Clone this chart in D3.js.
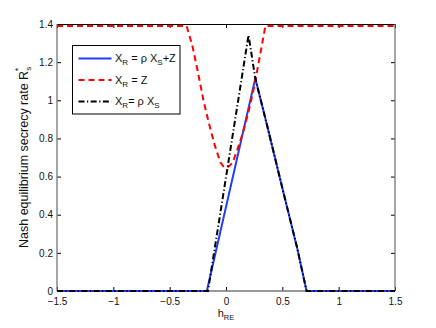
<!DOCTYPE html>
<html>
<head>
<meta charset="utf-8">
<script src="https://cdnjs.cloudflare.com/ajax/libs/d3/7.8.5/d3.min.js"></script>
<style>
body { margin: 0; background: #fff; }
text { font-family: "Liberation Sans", Arial, Helvetica, sans-serif; }
</style>
</head>
<body>
<div id="chart"></div>
<script>
// values
var hBlue = [-1.5, -0.17, 0.26, 0.36, 0.5, 0.63, 0.715, 1.5];
var rBlue = [0, 0, 1.115, 0.88, 0.54, 0.23, 0, 0];

var hRed = [-1.5, -0.35, -0.3, -0.25, -0.2, -0.15, -0.1, -0.05, -0.02, 0.0, 0.03, 0.06, 0.1, 0.15, 0.2, 0.25, 0.3, 0.35, 1.5];
var rRed = [1.39, 1.39, 1.29, 1.15, 1.0, 0.875, 0.765, 0.675, 0.65, 0.645, 0.655, 0.675, 0.74, 0.83, 0.94, 1.07, 1.23, 1.39, 1.39];

var hBlack = [-1.5, -0.16, 0.2, 0.26, 0.36, 0.5, 0.63, 0.715, 1.5];
var rBlack = [0, 0, 1.342, 1.115, 0.88, 0.54, 0.23, 0, 0];

var xTicks = [-1.5, -1, -0.5, 0, 0.5, 1, 1.5];
var xTickLabels = ["\u22121.5", "\u22121", "\u22120.5", "0", "0.5", "1", "1.5"];
var yTicks = [0, 0.2, 0.4, 0.6, 0.8, 1, 1.2, 1.4];
var yTickLabels = ["0", "0.2", "0.4", "0.6", "0.8", "1", "1.2", "1.4"];

var margin = {top: 24, right: 41, bottom: 37, left: 57},
    width = 436 - margin.left - margin.right,
    height = 328 - margin.top - margin.bottom;

var x = d3.scaleLinear().domain([-1.5, 1.5]).range([0, width]);
var y = d3.scaleLinear().domain([0, 1.4]).range([height, 0]);

var svg = d3.select("#chart").append("svg")
    .attr("width", 436)
    .attr("height", 328)
    .append("g")
    .attr("transform", "translate(" + margin.left + "," + margin.top + ")");

function toPts(hs, rs) {
    return hs.map(function (h, i) { return {h: h, r: rs[i]}; });
}

var line = d3.line()
    .x(function (d) { return x(d.h); })
    .y(function (d) { return y(d.r); });

var series = [
    {name: "blue", pts: toPts(hBlue, rBlue), color: "#1f3dff", dash: null},
    {name: "red", pts: toPts(hRed, rRed), color: "#ff0000", dash: "6,4"},
    {name: "black", pts: toPts(hBlack, rBlack), color: "#000", dash: "6,2.5,1.2,2.5"}
];

// axes with inward ticks
function styleAxis(g) {
    g.select(".domain").remove();
    g.selectAll("line").attr("stroke", "#000");
    g.selectAll("text").attr("font-size", 10).attr("fill", "#111")
        .style("font-family", "'Liberation Sans', Arial, sans-serif");
}

svg.append("g")
    .attr("transform", "translate(0," + height + ")")
    .call(d3.axisBottom(x).tickValues(xTicks).tickSize(-4).tickPadding(7)
        .tickFormat(function (d, i) { return xTickLabels[i]; }))
    .call(styleAxis);

svg.append("g")
    .call(d3.axisTop(x).tickValues(xTicks).tickSize(-4).tickFormat(""))
    .call(styleAxis);

svg.append("g")
    .call(d3.axisLeft(y).tickValues(yTicks).tickSize(-4).tickPadding(4)
        .tickFormat(function (d, i) { return yTickLabels[i]; }))
    .call(styleAxis);

svg.append("g")
    .attr("transform", "translate(" + width + ",0)")
    .call(d3.axisRight(y).tickValues(yTicks).tickSize(-4).tickFormat(""))
    .call(styleAxis);

// box
svg.append("line").attr("x1", 0).attr("x2", width).attr("y1", 0.5).attr("y2", 0.5)
    .attr("stroke", "#000");
svg.append("line").attr("x1", 0).attr("x2", width).attr("y1", height).attr("y2", height)
    .attr("stroke", "#777").attr("stroke-width", 1.3);
svg.append("line").attr("x1", 0).attr("x2", 0).attr("y1", 0).attr("y2", height)
    .attr("stroke", "#777").attr("stroke-width", 1.3);
svg.append("line").attr("x1", width).attr("x2", width).attr("y1", 0).attr("y2", height)
    .attr("stroke", "#777").attr("stroke-width", 1.3);

for (var i = 0; i < series.length; i++) {
    svg.append("path")
        .datum(series[i].pts)
        .attr("fill", "none")
        .attr("stroke", series[i].color)
        .attr("stroke-width", 2)
        .attr("stroke-dasharray", series[i].dash)
        .attr("d", line);
}

// legend
var leg = svg.append("g").attr("transform", "translate(" + (72.5 - margin.left) + "," + (45.5 - margin.top) + ")");
leg.append("rect")
    .attr("width", 107.5)
    .attr("height", 68.5)
    .attr("fill", "#fff")
    .attr("stroke", "#000");

var legRows = [
    {color: "#1f3dff", dash: null, parts: [["X", 0], ["R", 1], [" = \u03c1 X", 0], ["S", 1], ["+Z", 0]]},
    {color: "#ff0000", dash: "6,4", parts: [["X", 0], ["R", 1], [" = Z", 0]]},
    {color: "#000", dash: "6,2.5,1.2,2.5", parts: [["X", 0], ["R", 1], ["= \u03c1 X", 0], ["S", 1]]}
];
legRows.forEach(function (row, k) {
    var yy = 13 + k * 21.5;
    leg.append("line")
        .attr("x1", 6).attr("x2", 39)
        .attr("y1", yy).attr("y2", yy)
        .attr("stroke", row.color)
        .attr("stroke-width", 2)
        .attr("stroke-dasharray", row.dash);
    var t = leg.append("text").attr("x", 42.5).attr("y", yy + 3.5).attr("font-size", 11).attr("fill", "#111");
    var low = false;
    row.parts.forEach(function (p) {
        var ts = t.append("tspan").text(p[0]);
        if (p[1] && !low) { ts.attr("dy", 3).attr("font-size", 8); low = true; }
        else if (!p[1] && low) { ts.attr("dy", -3); low = false; }
    });
});

// axis titles
var xl = svg.append("text")
    .attr("x", width / 2)
    .attr("y", height + 26)
    .attr("text-anchor", "middle")
    .attr("font-size", 11)
    .attr("fill", "#111");
xl.append("tspan").text("h");
xl.append("tspan").text("RE").attr("dy", 3).attr("font-size", 7.5);

var yl = svg.append("text")
    .attr("transform", "translate(" + (28 - margin.left) + "," + (248 - margin.top) + ") rotate(-90)")
    .attr("text-anchor", "start")
    .attr("font-size", 12.5)
    .attr("fill", "#111");
yl.append("tspan").text("Nash equilibrium secrecy rate R");
yl.append("tspan").text("s").attr("dy", 3).attr("font-size", 8);
yl.append("tspan").text("*").attr("dx", -4.5).attr("dy", -10).attr("font-size", 9);
</script>
</body>
</html>
